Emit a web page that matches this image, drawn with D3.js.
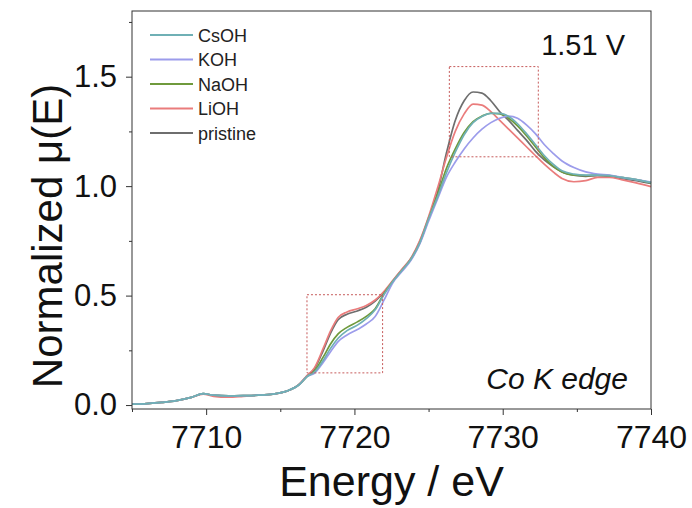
<!DOCTYPE html>
<html lang="en">
<head>
  <meta charset="UTF-8" />
  <title>Co K edge XANES</title>
  <style>
    body { margin: 0; background: #fff; }
    svg { display: block; font-family: "Liberation Sans", Arial, sans-serif; }
  </style>
  <script src="https://d3js.org/d3.v7.min.js"></script>
</head>
<body>
<svg id="chart" width="692" height="508"></svg>
<script>
  // energy grid (eV) shared by all spectra
  const energy = [7705, 7706, 7707, 7708, 7709, 7709.8, 7710.5, 7711.5, 7712.5, 7713.5,
    7714.5, 7715.5, 7716.3, 7716.8, 7717.3, 7717.9, 7718.4, 7718.9, 7719.5, 7720.2,
    7720.8, 7721.4, 7722, 7722.6, 7723.2, 7723.8, 7724.4, 7725, 7725.6, 7726.2,
    7726.8, 7727.4, 7728, 7728.6, 7729.2, 7729.8, 7730.4, 7731, 7731.6, 7732.2,
    7732.8, 7733.4, 7734, 7734.8, 7735.6, 7736.4, 7737.2, 7738, 7739, 7740];

  const csoh = [0.004, 0.007, 0.012, 0.02, 0.035, 0.052, 0.045, 0.042, 0.043, 0.045,
    0.05, 0.065, 0.095, 0.13, 0.15, 0.205, 0.26, 0.305, 0.34, 0.365,
    0.395, 0.435, 0.505, 0.565, 0.615, 0.665, 0.74, 0.85, 0.95, 1.06,
    1.155, 1.235, 1.29, 1.318, 1.332, 1.332, 1.318, 1.285, 1.24, 1.19,
    1.14, 1.1, 1.07, 1.055, 1.05, 1.05, 1.048, 1.04, 1.03, 1.016];

  const koh = [0.004, 0.007, 0.012, 0.02, 0.035, 0.052, 0.045, 0.042, 0.043, 0.045,
    0.05, 0.065, 0.095, 0.13, 0.145, 0.195, 0.245, 0.29, 0.32, 0.345,
    0.37, 0.405, 0.48, 0.56, 0.61, 0.66, 0.735, 0.84, 0.94, 1.04,
    1.11, 1.17, 1.22, 1.26, 1.29, 1.31, 1.32, 1.31, 1.28, 1.24,
    1.19, 1.15, 1.115, 1.085, 1.065, 1.055, 1.05, 1.04, 1.03, 1.018];

  const naoh = [0.004, 0.007, 0.012, 0.02, 0.035, 0.052, 0.045, 0.042, 0.043, 0.045,
    0.05, 0.065, 0.095, 0.13, 0.155, 0.22, 0.28, 0.325, 0.355, 0.38,
    0.405, 0.44, 0.51, 0.565, 0.615, 0.665, 0.74, 0.85, 0.96, 1.08,
    1.17, 1.245, 1.295, 1.32, 1.333, 1.33, 1.31, 1.275, 1.23, 1.18,
    1.13, 1.09, 1.065, 1.05, 1.048, 1.05, 1.048, 1.04, 1.03, 1.015];

  const lioh = [0.004, 0.007, 0.012, 0.02, 0.035, 0.05, 0.04, 0.036, 0.04, 0.045,
    0.05, 0.065, 0.097, 0.135, 0.17, 0.26, 0.34, 0.4, 0.425, 0.44,
    0.455, 0.48, 0.52, 0.57, 0.62, 0.67, 0.75, 0.86, 0.99, 1.13,
    1.25, 1.33, 1.375, 1.37, 1.34, 1.3, 1.26, 1.22, 1.18, 1.14,
    1.1, 1.065, 1.035, 1.02, 1.025, 1.04, 1.04, 1.03, 1.015, 0.998];

  const pristine = [0.004, 0.007, 0.012, 0.02, 0.035, 0.052, 0.045, 0.042, 0.043, 0.045,
    0.05, 0.065, 0.096, 0.133, 0.165, 0.25, 0.33, 0.39, 0.415, 0.43,
    0.447, 0.475, 0.515, 0.568, 0.618, 0.668, 0.745, 0.855, 0.97, 1.15,
    1.3, 1.39, 1.43, 1.425, 1.39, 1.34, 1.3, 1.255, 1.21, 1.16,
    1.12, 1.09, 1.065, 1.05, 1.045, 1.048, 1.045, 1.035, 1.025, 1.012];

  const seriesNames = ['CsOH', 'KOH', 'NaOH', 'LiOH', 'pristine'];
  const seriesValues = [csoh, koh, naoh, lioh, pristine];
  const seriesColors = ['#6fb0b5', '#9c9ceb', '#6f9a3c', '#ea7c7c', '#6e6e6e'];
  const drawOrder = [4, 3, 2, 1, 0];

  const xMajor = [7710, 7720, 7730, 7740];
  const xMinor = [7705, 7715, 7725, 7735];
  const yMajor = [0.0, 0.5, 1.0, 1.5];
  const yMinor = [0.25, 0.75, 1.25, 1.75];

  // dotted zoom boxes: [E0, E1, mu0, mu1]
  const boxes = [[7716.8, 7721.9, 0.147, 0.504], [7726.4, 7732.4, 1.134, 1.546]];

  const svg = d3.select('#chart');
  const pLeft = 132, pRight = 651, pTop = 11, pBottom = 409;

  const x = d3.scaleLinear().domain([7705, 7740]).range([pLeft, pRight]);
  const y = d3.scaleLinear().domain([-0.018, 1.8]).range([pBottom, pTop]);

  const axisColor = '#333';

  // curves
  const line = d3.line()
    .x(d => x(d[0]))
    .y(d => y(d[1]))
    .curve(d3.curveMonotoneX);

  const plot = svg.append('g');
  drawOrder.forEach(i => {
    plot.append('path')
      .datum(energy.map((e, k) => [e, seriesValues[i][k]]))
      .attr('d', line)
      .attr('fill', 'none')
      .attr('stroke', seriesColors[i])
      .attr('stroke-width', 1.7)
      .attr('stroke-linejoin', 'round');
  });

  // dotted boxes
  boxes.forEach(b => {
    svg.append('rect')
      .attr('x', x(b[0]))
      .attr('y', y(b[3]))
      .attr('width', x(b[1]) - x(b[0]))
      .attr('height', y(b[2]) - y(b[3]))
      .attr('fill', 'none')
      .attr('stroke', '#c65a5a')
      .attr('stroke-width', 1)
      .attr('stroke-dasharray', '2,2');
  });

  // frame
  svg.append('rect')
    .attr('x', pLeft).attr('y', pTop)
    .attr('width', pRight - pLeft).attr('height', pBottom - pTop)
    .attr('fill', 'none')
    .attr('stroke', axisColor)
    .attr('stroke-width', 1);

  // x axis
  const xAxis = svg.append('g').attr('transform', `translate(0,${pBottom})`)
    .call(d3.axisBottom(x).tickValues(xMajor).tickSize(6).tickPadding(10).tickFormat(d3.format('d')));
  svg.append('g').attr('transform', `translate(0,${pBottom})`)
    .call(d3.axisBottom(x).tickValues(xMinor).tickSize(3).tickFormat(''));

  // y axis
  const yAxis = svg.append('g').attr('transform', `translate(${pLeft},0)`)
    .call(d3.axisLeft(y).tickValues(yMajor).tickSize(6).tickPadding(9).tickFormat(d3.format('.1f')));
  svg.append('g').attr('transform', `translate(${pLeft},0)`)
    .call(d3.axisLeft(y).tickValues(yMinor).tickSize(3).tickFormat(''));

  svg.selectAll('.domain').remove();
  svg.selectAll('.tick line').attr('stroke', axisColor);
  xAxis.selectAll('text')
    .attr('font-size', 32)
    .attr('font-family', '"Liberation Sans", Arial, sans-serif')
    .attr('fill', '#111');
  yAxis.selectAll('text')
    .attr('font-size', 31)
    .attr('font-family', '"Liberation Sans", Arial, sans-serif')
    .attr('fill', '#111');

  // axis titles
  svg.append('text')
    .attr('x', (pLeft + pRight) / 2)
    .attr('y', 496)
    .attr('text-anchor', 'middle')
    .attr('font-size', 43)
    .attr('fill', '#111')
    .text('Energy / eV');

  svg.append('text')
    .attr('transform', 'translate(62,236) rotate(-90)')
    .attr('text-anchor', 'middle')
    .attr('font-size', 42)
    .attr('fill', '#111')
    .text('Normalized μ(E)');

  // annotations
  svg.append('text')
    .attr('x', 625).attr('y', 55)
    .attr('text-anchor', 'end')
    .attr('font-size', 29)
    .attr('fill', '#111')
    .text('1.51 V');

  svg.append('text')
    .attr('x', 628).attr('y', 389)
    .attr('text-anchor', 'end')
    .attr('font-size', 30)
    .attr('font-style', 'italic')
    .attr('fill', '#111')
    .text('Co K edge');

  // legend
  const legend = svg.append('g');
  seriesNames.forEach((name, i) => {
    const ly = 35 + i * 24.5;
    legend.append('line')
      .attr('x1', 150).attr('x2', 193)
      .attr('y1', ly).attr('y2', ly)
      .attr('stroke', seriesColors[i])
      .attr('stroke-width', 2);
    legend.append('text')
      .attr('x', 198).attr('y', ly + 6.5)
      .attr('font-size', 18)
      .attr('fill', '#222')
      .text(name);
  });
</script>
</body>
</html>
